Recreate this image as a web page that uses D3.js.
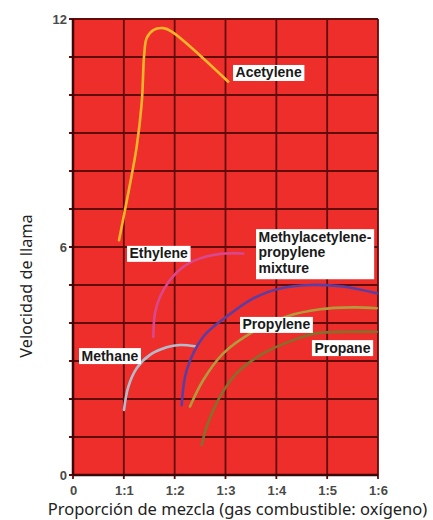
<!DOCTYPE html>
<html><head><meta charset="utf-8">
<script src="https://cdn.jsdelivr.net/npm/d3@7"></script>
<style>
html,body{margin:0;padding:0;background:#fff;}
svg{display:block;}
</style></head>
<body>
<svg id="chart" width="433" height="520"></svg>
<script>
// ---- data ----
const xTickValues = [0, 1, 2, 3, 4, 5, 6];
const xTickLabels = ["0", "1:1", "1:2", "1:3", "1:4", "1:5", "1:6"];
const yTickValues = [0, 6, 12];
const yTickLabels = ["0", "6", "12"];
const yGridValues = [0,1,2,3,4,5,6,7,8,9,10,11,12];

const acetylene = [[0.905,6.18],[1.088,7.42],[1.253,8.64],[1.352,9.79],[1.403,11.11],[1.45,11.5],[1.58,11.71],[1.777,11.76],[1.942,11.67],[3.055,10.35]];
const ethylene = [[1.58,3.64],[1.613,4.26],[1.712,4.69],[1.908,5.13],[2.17,5.48],[2.499,5.70],[2.892,5.82],[3.35,5.83]];
const methane = [[1.003,1.71],[1.088,2.32],[1.253,2.81],[1.515,3.16],[1.843,3.36],[2.105,3.42],[2.40,3.39]];
const mappMixture = [[2.138,1.84],[2.237,2.76],[2.563,3.64],[3.024,4.17],[3.547,4.65],[4.072,4.91],[4.663,5.0],[5.318,4.96],[5.975,4.78]];
const propylene = [[2.302,1.80],[2.563,2.50],[2.957,3.20],[3.547,3.77],[4.204,4.17],[4.859,4.36],[5.514,4.41],[5.975,4.39]];
const propane = [[2.532,0.79],[2.63,1.27],[2.892,2.06],[3.221,2.68],[3.744,3.20],[4.334,3.55],[4.794,3.73],[5.385,3.77],[5.975,3.77]];

const seriesNames = ["Acetylene","Ethylene","Methane","Methylacetylene-propylene mixture","Propylene","Propane"];
const seriesData = [acetylene, ethylene, methane, mappMixture, propylene, propane];
const seriesColors = ["#f9b52a","#d9488f","#b4bccb","#5b3ea3","#b39a3c","#84702c"];

// label anchors in data units (top-left of box) and text lines
const labelLines = [["Acetylene"],["Ethylene"],["Methane"],["Methylacetylene-","propylene","mixture"],["Propylene"],["Propane"]];
const labelPos = [[3.148,10.79],[1.062,6.03],[0.118,3.34],[3.60,6.47],[3.285,4.16],[4.70,3.55]];

// ---- layout ----
const margin = {left:73, top:19, right:55, bottom:45};
const W = 433, H = 520;
const svg = d3.select("#chart");
const x = d3.scaleLinear().domain([0,6]).range([margin.left, W - margin.right]);
const y = d3.scaleLinear().domain([0,12]).range([H - margin.bottom, margin.top]);

// background
svg.append("rect").attr("x", x(0)).attr("y", y(12))
  .attr("width", x(6)-x(0)).attr("height", y(0)-y(12)).attr("fill", "#ee2e2b");

// grid
const gridColor = "#620b0b";
svg.append("g").selectAll("line").data(yGridValues).join("line")
  .attr("x1", x(0)-4).attr("x2", x(6)).attr("y1", d=>y(d)).attr("y2", d=>y(d))
  .attr("stroke", gridColor).attr("stroke-width", 1.8);
svg.append("g").selectAll("line").data(xTickValues).join("line")
  .attr("x1", d=>x(d)).attr("x2", d=>x(d)).attr("y1", y(12)).attr("y2", y(0)+4)
  .attr("stroke", gridColor).attr("stroke-width", 1.8);
// axis lines
svg.append("line").attr("x1", x(0)).attr("x2", x(0)).attr("y1", y(12)).attr("y2", y(0))
  .attr("stroke", "#3a0606").attr("stroke-width", 2.5);
svg.append("line").attr("x1", x(0)).attr("x2", x(6)).attr("y1", y(0)).attr("y2", y(0))
  .attr("stroke", "#3a0606").attr("stroke-width", 2.5);

// axes tick labels
const xAxis = d3.axisBottom(x).tickValues(xTickValues).tickFormat((d,i)=>xTickLabels[i]).tickSize(0).tickPadding(11);
const gx = svg.append("g").attr("transform", `translate(0,${y(0)})`).call(xAxis);
gx.select(".domain").remove();
gx.selectAll("text").attr("font-family","Liberation Sans, Arial, sans-serif").attr("font-weight","bold")
  .attr("font-size", 13).attr("fill","#4a4a4a");

const yAxis = d3.axisLeft(y).tickValues(yTickValues).tickFormat((d,i)=>yTickLabels[i]).tickSize(0).tickPadding(6);
const gy = svg.append("g").attr("transform", `translate(${x(0)},0)`).call(yAxis);
gy.select(".domain").remove();
gy.selectAll("text").attr("font-family","Liberation Sans, Arial, sans-serif").attr("font-weight","bold")
  .attr("font-size", 13).attr("fill","#4a4a4a");

// curves
const line = d3.line().x(d=>x(d[0])).y(d=>y(d[1])).curve(d3.curveCatmullRom.alpha(0.5));
svg.append("g").selectAll("path").data(seriesData).join("path")
  .attr("d", line).attr("fill","none")
  .attr("stroke", (d,i)=>seriesColors[i]).attr("stroke-width", 2.6)
  .attr("stroke-linecap","round");

// labels
const lg = svg.append("g").attr("font-family","Liberation Sans, Arial, sans-serif")
  .attr("font-weight","bold").attr("font-size", 14).attr("fill","#1a1a1a");
labelLines.forEach((lines, i) => {
  const g = lg.append("g").attr("transform", `translate(${x(labelPos[i][0])},${y(labelPos[i][1])})`);
  const rect = g.append("rect").attr("fill","#fff");
  const t = g.append("text");
  lines.forEach((s, k) => {
    t.append("tspan").attr("x", 2.5).attr("y", 12.5 + k*15.7).text(s);
  });
  const bb = t.node().getBBox();
  rect.attr("x", 0).attr("y", 0).attr("width", bb.width + 5).attr("height", lines.length === 1 ? 16 : lines.length*15.7 + 3);
});

// axis titles
svg.append("text").attr("x", 237.5).attr("y", 515).attr("text-anchor","middle")
  .attr("font-family","Noto Sans, Open Sans, sans-serif").attr("font-size", 16.5).attr("fill","#222")
  .text("Proporción de mezcla (gas combustible: oxígeno)");
svg.append("text").attr("transform", `translate(32,286) rotate(-90)`).attr("text-anchor","middle")
  .attr("font-family","Noto Sans, Open Sans, sans-serif").attr("font-size", 16.3).attr("fill","#222")
  .text("Velocidad de llama");
</script>
</body></html>
